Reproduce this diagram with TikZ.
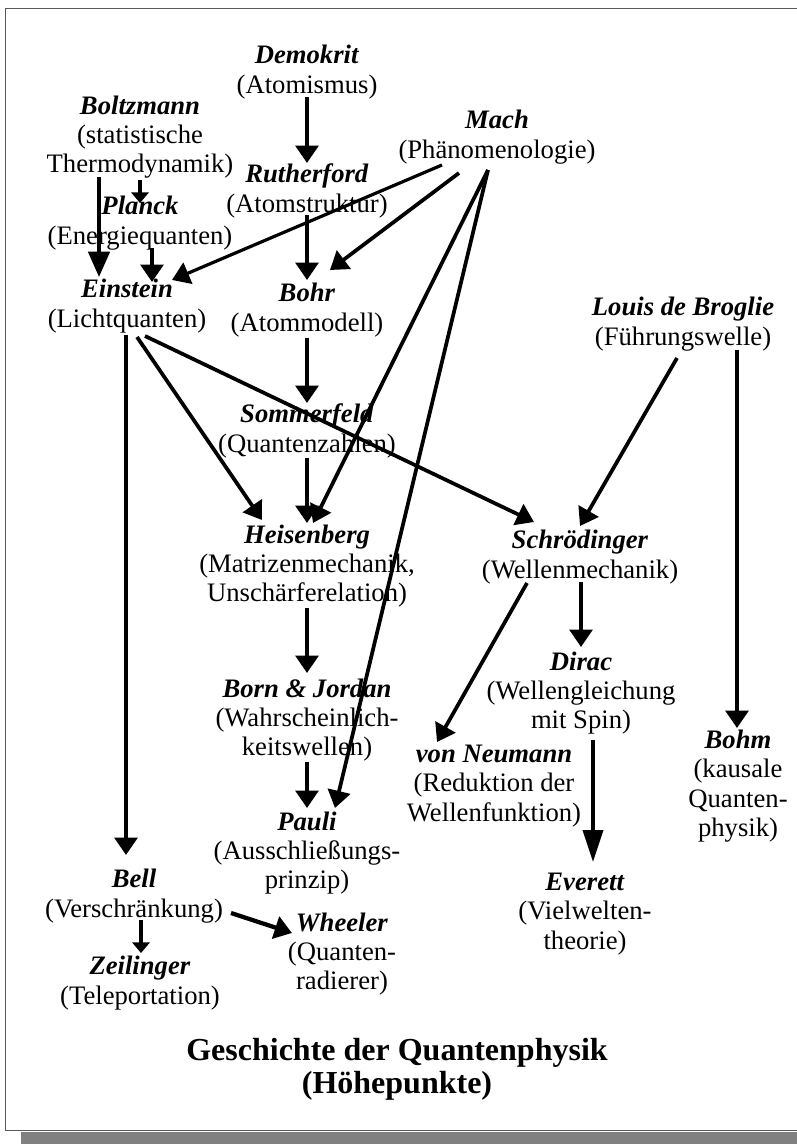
\documentclass[tikz,border=0pt]{standalone}
\usepackage{fontspec}
\setmainfont{Liberation Serif}
\usetikzlibrary{calc,arrows.meta}

\begin{document}
\begin{tikzpicture}[x=0.75pt,y=-0.75pt]

\tikzset{
person/.style={align=center,inner sep=0pt,font=\fontsize{20}{22}\selectfont},
headline/.style={align=center,inner sep=0pt,font=\fontsize{24}{25}\selectfont\bfseries},
flow/.style={-{Triangle[length=13pt,width=17pt]},line width=2.8pt},
longflow/.style={-{Triangle[length=19pt,width=16pt]},line width=2.8pt},
smallflow/.style={-{Triangle[length=8pt,width=13pt]},line width=2.4pt},
frame/.style={draw=black!65,line width=0.8pt}
}

\useasboundingbox (0,0) rectangle (796,1144);

% Frame
\fill[black!50] (21,1131.5) rectangle (810,1150);
\draw[frame] (5.5,8.5) rectangle (810,1130.5);

% Nodes
\node[person] (demokrit) at (307,72) {\textbf{\textit{Demokrit}}\\(Atomismus)};
\node[person] (boltzmann) at (140,137) {\textbf{\textit{Boltzmann}}\\(statistische\\Thermodynamik)};
\node[person] (mach) at (497,137) {\textbf{\textit{Mach}}\\(Phänomenologie)};
\node[person] (rutherford) at (307,191) {\textbf{\textit{Rutherford}}\\(Atomstruktur)};
\node[person] (planck) at (140,223) {\textbf{\textit{Planck}}\\(Energiequanten)};
\node[person] (einstein) at (127,306) {\textbf{\textit{Einstein}}\\(Lichtquanten)};
\node[person] (bohr) at (307,310) {\textbf{\textit{Bohr}}\\(Atommodell)};
\node[person] (broglie) at (683,324) {\textbf{\textit{Louis de Broglie}}\\(Führungswelle)};
\node[person] (sommerfeld) at (307,431) {\textbf{\textit{Sommerfeld}}\\(Quantenzahlen)};
\node[person] (heisenberg) at (307,566) {\textbf{\textit{Heisenberg}}\\(Matrizenmechanik,\\Unschärferelation)};
\node[person] (schroedinger) at (580,557) {\textbf{\textit{Schrödinger}}\\(Wellenmechanik)};
\node[person] (dirac) at (581,693) {\textbf{\textit{Dirac}}\\(Wellengleichung\\mit Spin)};
\node[person] (born) at (307,720) {\textbf{\textit{Born \& Jordan}}\\(Wahrscheinlich-\\keitswellen)};
\node[person] (neumann) at (494,786) {\textbf{\textit{von Neumann}}\\(Reduktion der\\Wellenfunktion)};
\node[person] (bohm) at (738,786) {\textbf{\textit{Bohm}}\\(kausale\\Quanten-\\physik)};
\node[person] (pauli) at (307,853) {\textbf{\textit{Pauli}}\\(Ausschließungs-\\prinzip)};
\node[person] (everett) at (585,914) {\textbf{\textit{Everett}}\\(Vielwelten-\\theorie)};
\node[person] (bell) at (134,896) {\textbf{\textit{Bell}}\\(Verschränkung)};
\node[person] (wheeler) at (342,954) {\textbf{\textit{Wheeler}}\\(Quanten-\\radierer)};
\node[person] (zeilinger) at (140,983) {\textbf{\textit{Zeilinger}}\\(Teleportation)};


% Arrows
\draw[flow] ($(demokrit)+(0,25)$) -- ($(rutherford)+(0,-28)$);
\draw[flow] ($(rutherford)+(0,24)$) -- ($(bohr)+(0,-30)$);
\draw[flow] ($(bohr)+(0,28)$) -- ($(sommerfeld)+(0,-28)$);
\draw[flow] ($(sommerfeld)+(0,27)$) -- ($(heisenberg)+(0,-43)$);
\draw[flow] ($(heisenberg)+(0,42)$) -- ($(born)+(0,-47)$);
\draw[flow] ($(born)+(0,42)$) -- ($(pauli)+(0,-45)$);

\draw[smallflow] ($(boltzmann)+(0,43)$) -- ($(planck)+(0,-20)$);
\draw[longflow] ($(boltzmann)+(-41,40)$) -- ($(einstein)+(-28,-29)$);
\draw[flow] ($(planck)+(12,25)$) -- ($(einstein)+(25,-24)$);

\draw[flow,line width=2.4pt] ($(mach)+(-55,28)$) -- ($(einstein)+(45,-26)$);
\draw[flow] ($(mach)+(-38,36)$) -- ($(bohr)+(23,-40)$);
\draw[flow] ($(mach)+(-9,33)$) -- ($(heisenberg)+(6,-43)$);
\draw[flow] ($(mach)+(-9,33)$) -- ($(pauli)+(28,-45)$);

\draw[flow] ($(einstein)+(-1,29)$) -- ($(bell)+(-8,-41)$);
\draw[flow] ($(einstein)+(10,31)$) -- ($(heisenberg)+(-45,-46)$);
\draw[flow] ($(einstein)+(18,30)$) -- ($(schroedinger)+(-46,-35)$);

\draw[flow] ($(broglie)+(-6,34)$) -- ($(schroedinger)+(0,-31)$);
\draw[flow] ($(broglie)+(54,26)$) -- ($(bohm)+(-1,-58)$);

\draw[flow] ($(schroedinger)+(1,25)$) -- ($(dirac)+(0,-46)$);
\draw[flow] ($(schroedinger)+(-53,26)$) -- ($(neumann)+(-57,-44)$);
\draw[longflow,-{Triangle[length=24pt,width=15pt]}] ($(dirac)+(12,47)$) -- ($(everett)+(8,-52)$);

\draw[smallflow] ($(bell)+(7,24)$) -- ($(zeilinger)+(1,-30)$);
\draw[flow,line width=3.2pt] ($(bell)+(97,17)$) -- ($(wheeler)+(-50,-21)$);


% Labels
\node[headline] (title) at (397,1069) {Geschichte der Quantenphysik\\(Höhepunkte)};

\end{tikzpicture}
\end{document}
